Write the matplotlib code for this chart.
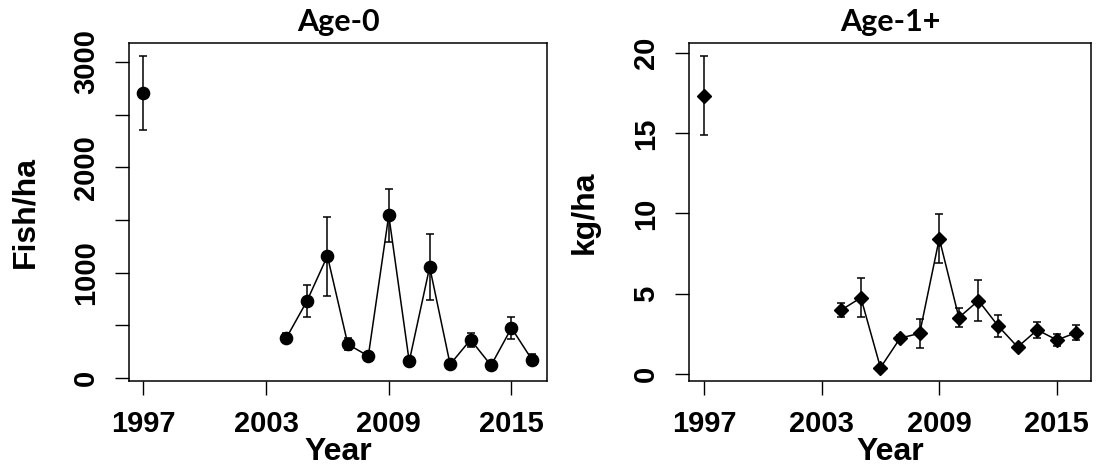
import matplotlib.pyplot as plt

# survey values (mean and standard error)
first_year = 1997
years = list(range(2004, 2017))

age0_first = 2705
age0_first_se = 348
age0 = [383, 731, 1158, 320, 209, 1545, 158, 1054, 130, 364, 120, 475, 174]
age0_se = [40, 150, 375, 58, 20, 250, 15, 310, 15, 68, 15, 105, 50]

age1_first = 17.34
age1_first_se = 2.46
age1 = [3.97, 4.74, 0.37, 2.21, 2.52, 8.43, 3.50, 4.56, 2.98, 1.66, 2.73, 2.10, 2.56]
age1_se = [0.42, 1.2, 0.1, 0.22, 0.9, 1.52, 0.6, 1.3, 0.67, 0.15, 0.48, 0.35, 0.45]

year_ticks = [1997, 2003, 2009, 2015]
age0_ticks = [0, 500, 1000, 1500, 2000, 2500, 3000]
age0_ticklabels = ['0', '', '1000', '', '2000', '', '3000']
age1_ticks = [0, 5, 10, 15, 20]

plt.rcParams['font.family'] = 'Liberation Sans'
plt.rcParams['font.weight'] = 'bold'
plt.rcParams['axes.labelweight'] = 'bold'

fig = plt.figure(figsize=(11.14, 4.70), dpi=100)
ax1 = fig.add_axes([0.1158, 0.1894, 0.3753, 0.7191])
ax2 = fig.add_axes([0.6185, 0.1894, 0.3610, 0.7191])


def panel(ax, y0, se0, vals, ses, marker, ms):
    style = dict(color='black', marker=marker, ms=ms, elinewidth=1.1,
                 capsize=3, capthick=1.1, lw=1.1)
    ax.errorbar([first_year], [y0], yerr=[se0], fmt='none', ecolor='black',
                elinewidth=1.1, capsize=3, capthick=1.1)
    ax.plot([first_year], [y0], linestyle='none', marker=marker, ms=ms, color='black')
    ax.errorbar(years, vals, yerr=ses, **style)
    ax.set_xticks(year_ticks)
    ax.tick_params(direction='out', length=10, width=1, labelsize=21, pad=11)
    for s in ax.spines.values():
        s.set_linewidth(1.1)


panel(ax1, age0_first, age0_first_se, age0, age0_se, 'o', 8.8)
ax1.set_xlim(1996.3, 2016.74)
ax1.set_ylim(-28, 3180)
ax1.set_yticks(age0_ticks)
ax1.set_yticklabels(age0_ticklabels)
ax1.set_title('Age-0', fontsize=22, fontweight='bold', family='Lato', pad=9)
ax1.set_ylabel('Fish/ha', fontsize=23, fontweight='bold')
ax1.yaxis.set_label_coords(-0.211, 0.5)

panel(ax2, age1_first, age1_first_se, age1, age1_se, 'D', 7.2)
ax2.set_xlim(1996.23, 2016.75)
ax2.set_ylim(-0.46, 20.64)
ax2.set_yticks(age1_ticks)
ax2.set_title('Age-1+', fontsize=22, fontweight='bold', family='Lato', pad=9)
ax2.set_ylabel('kg/ha', fontsize=23, fontweight='bold')
ax2.yaxis.set_label_coords(-0.221, 0.5)

for ax in (ax1, ax2):
    for lab in ax.get_yticklabels():
        lab.set_rotation(90)
        lab.set_va('center')
    ax.set_xlabel('Year', fontsize=23, fontweight='bold')
    ax.xaxis.set_label_coords(0.5, -0.165)

fig.savefig('out.png', dpi=100)
